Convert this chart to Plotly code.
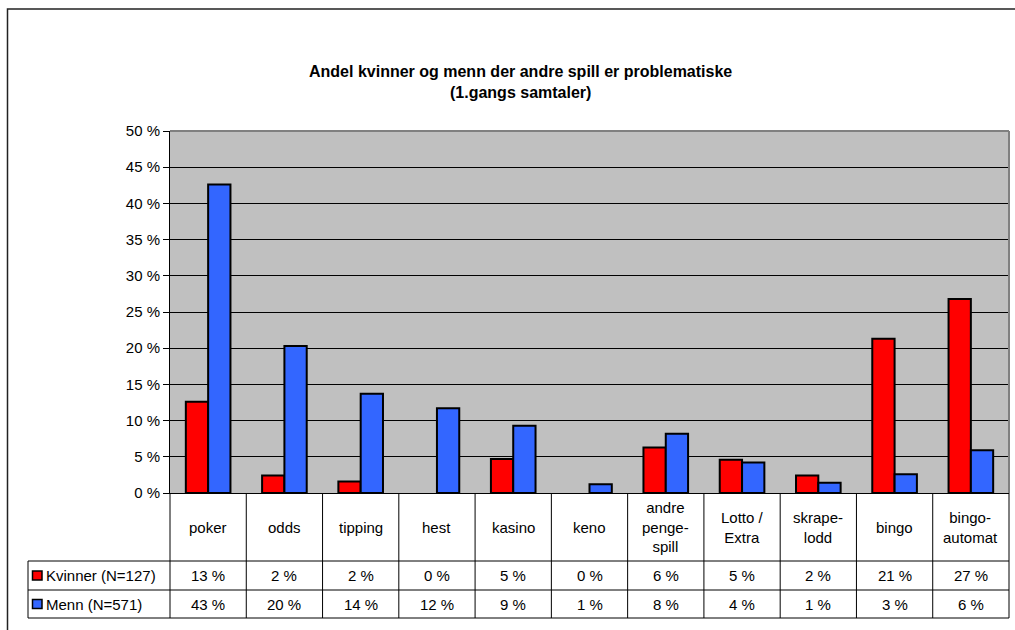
import plotly.graph_objects as go

# ---- data ----
categories = ["poker", "odds", "tipping", "hest", "kasino", "keno",
              "andre<br>penge-<br>spill", "Lotto /<br>Extra", "skrape-<br>lodd",
              "bingo", "bingo-<br>automat"]
kvinner = [12.6, 2.4, 1.6, 0.0, 4.7, 0.0, 6.3, 4.6, 2.4, 21.3, 26.8]
menn = [42.6, 20.3, 13.7, 11.7, 9.3, 1.2, 8.2, 4.2, 1.4, 2.6, 5.9]
series_names = ["Kvinner (N=127)", "Menn (N=571)"]
series_colors = ["#FF0000", "#3366FF"]
y_ticks = [0, 5, 10, 15, 20, 25, 30, 35, 40, 45, 50]
y_tick_labels = [f"{v} %" for v in y_ticks]
title_lines = ["Andel kvinner og menn der andre spill er problematiske",
               "(1.gangs samtaler)"]

# ---- geometry (pixels) ----
WIDTH, HEIGHT = 1015, 630
L, R, T, B = 170, 1009, 131, 493
PW, PH = R - L, B - T


def px(xp):
    return (xp - L) / PW


def py(yp):
    return (B - yp) / PH


FONT = "Liberation Sans, Arial, sans-serif"
FS = 15
x_idx = list(range(len(categories)))

fig = go.Figure()
for name, vals, col in zip(series_names, [kvinner, menn], series_colors):
    fig.add_trace(go.Bar(
        x=x_idx, y=vals, name=name,
        marker=dict(color=col,
                    line=dict(color="black", width=[0 if v == 0 else 2 for v in vals])),
        showlegend=False, hoverinfo="skip"))

shapes = []
annotations = []

# plot top/right border (gray)
shapes.append(dict(type="line", xref="paper", yref="paper", x0=0, x1=1, y0=1, y1=1,
                   line=dict(color="#808080", width=2)))
shapes.append(dict(type="line", xref="paper", yref="paper", x0=1, x1=1, y0=0, y1=1,
                   line=dict(color="#808080", width=2)))

# outer chart border
shapes.append(dict(type="rect", xref="paper", yref="paper",
                   x0=px(7.5), x1=px(1030), y0=py(9), y1=py(650),
                   line=dict(color="#222222", width=1.5), fillcolor="rgba(0,0,0,0)"))

# data table rows
row_top, row_mid, row_bot = 561, 590, 618
tbl_left = 28
for yy in (row_top, row_mid, row_bot):
    shapes.append(dict(type="line", xref="paper", yref="paper",
                       x0=px(tbl_left), x1=1, y0=py(yy), y1=py(yy),
                       line=dict(color="black", width=1)))
# vertical column separators (category boundaries on the axis)
shapes.append(dict(type="line", xref="paper", yref="paper", x0=0, x1=0,
                   y0=0, y1=py(row_bot), line=dict(color="black", width=1)))
shapes.append(dict(type="line", xref="paper", yref="paper", x0=1, x1=1,
                   y0=0, y1=py(row_bot), line=dict(color="black", width=1)))
for i in x_idx[:-1]:
    shapes.append(dict(type="line", xref="x", yref="paper", x0=i + 0.5, x1=i + 0.5,
                       y0=0, y1=py(row_bot), line=dict(color="black", width=1)))
shapes.append(dict(type="line", xref="paper", yref="paper", x0=px(tbl_left), x1=px(tbl_left),
                   y0=py(row_top), y1=py(row_bot), line=dict(color="black", width=1)))

# category labels
for i, c in zip(x_idx, categories):
    annotations.append(dict(x=i, y=py((B + row_top) / 2), xref="x", yref="paper",
                            text=c, showarrow=False, xanchor="center", yanchor="middle",
                            font=dict(family=FONT, size=FS, color="black")))

# values rows + legend keys
row_centers = [(row_top + row_mid) / 2, (row_mid + row_bot) / 2]
for name, vals, col, yc in zip(series_names, [kvinner, menn], series_colors, row_centers):
    for i, v in zip(x_idx, vals):
        annotations.append(dict(x=i, y=py(yc), xref="x", yref="paper",
                                text=f"{round(v):.0f} %", showarrow=False,
                                xanchor="center", yanchor="middle",
                                font=dict(family=FONT, size=FS, color="black")))
    shapes.append(dict(type="rect", xref="paper", yref="paper",
                       x0=px(32.5), x1=px(42), y0=py(yc + 4.5), y1=py(yc - 4.5),
                       fillcolor=col, line=dict(color="black", width=1.5)))
    annotations.append(dict(x=px(44), y=py(yc), xref="paper", yref="paper",
                            text=name, showarrow=False, xanchor="left", yanchor="middle",
                            font=dict(family=FONT, size=FS, color="black")))

# title
for line_text, yy in zip(title_lines, (71, 93)):
    annotations.append(dict(x=px(520), y=py(yy), xref="paper", yref="paper",
                            text=f"<b>{line_text}</b>", showarrow=False,
                            xanchor="center", yanchor="middle",
                            font=dict(family=FONT, size=16, color="black")))

fig.update_layout(
    width=WIDTH, height=HEIGHT,
    margin=dict(l=L, r=WIDTH - R, t=T, b=HEIGHT - B, pad=0),
    paper_bgcolor="white", plot_bgcolor="#C0C0C0",
    barmode="group", bargap=0.415, bargroupgap=0,
    font=dict(family=FONT, size=FS, color="black"),
    shapes=shapes, annotations=annotations,
    xaxis=dict(range=[-0.5, len(categories) - 0.5], showticklabels=False,
               showgrid=False, zeroline=False, showline=True,
               linecolor="black", linewidth=1, ticks="", automargin=False,
               fixedrange=True),
    yaxis=dict(range=[0, 50], tickmode="array", tickvals=y_ticks, ticktext=y_tick_labels,
               showgrid=True, gridcolor="black", gridwidth=1,
               zeroline=False, showline=True, linecolor="black", linewidth=1,
               ticks="outside", ticklen=6, tickcolor="black", tickwidth=1,
               tickfont=dict(family=FONT, size=FS, color="black"),
               automargin=False, fixedrange=True),
)

fig.write_html("out.html",
               config={"displayModeBar": False},
               post_script="document.body.style.margin='0';document.body.style.padding='0';")
